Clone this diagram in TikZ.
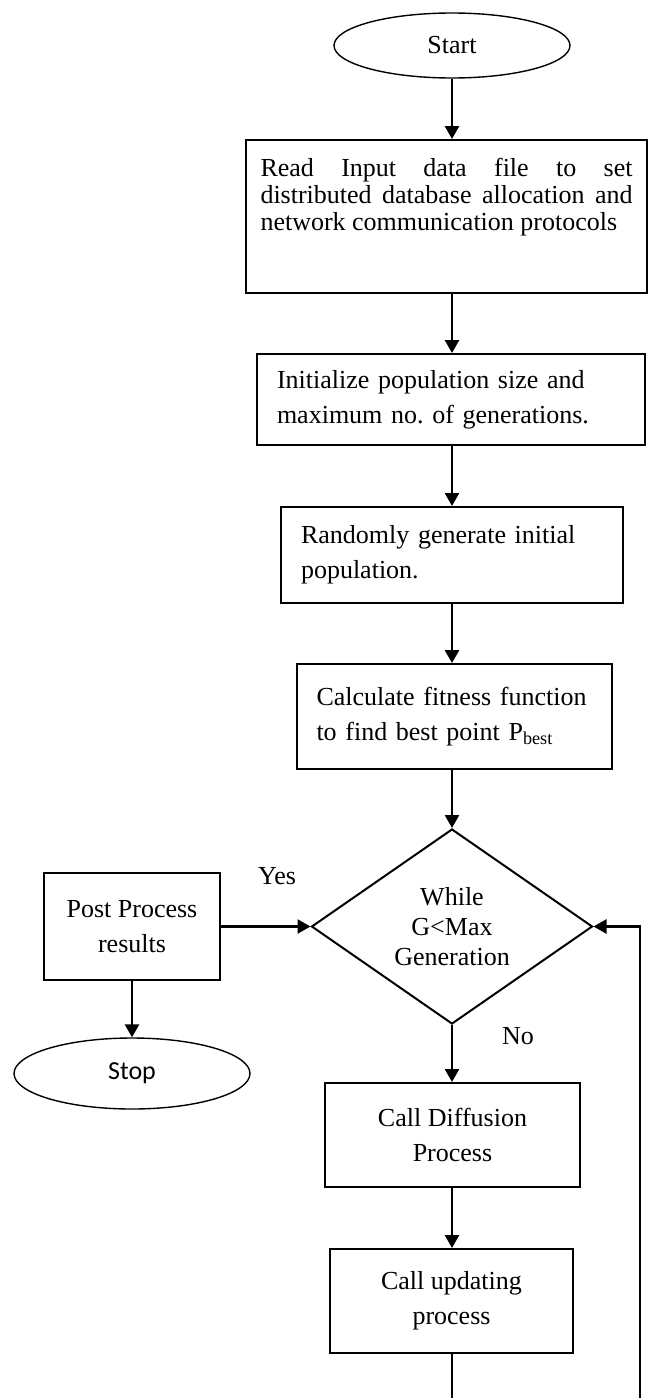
\documentclass[tikz,border=0pt]{standalone}
\usepackage{fontspec}
\setmainfont{Liberation Serif}
\newfontfamily\stopfont{Carlito}
\usetikzlibrary{arrows.meta, shapes.geometric, positioning}
\frenchspacing

\begin{document}
\begin{tikzpicture}[x=0.5pt, y=-0.5pt,
    font=\fontsize{13}{17.5}\selectfont,
    terminal/.style={draw, ellipse, line width=0.7pt, inner sep=0pt, minimum width=118pt},
    stepbox/.style={draw, rectangle, line width=1pt, inner xsep=10pt, inner ysep=0pt},
    decision/.style={draw, diamond, line width=1pt, inner sep=0pt, minimum width=140.5pt, minimum height=97.5pt, align=center, font=\fontsize{13}{15}\selectfont},
    flow/.style={-{Triangle[length=6.5pt, width=7pt]}, line width=1.3pt}]
  \useasboundingbox (0,0) rectangle (648,1398);
  \node[terminal, minimum height=32.5pt] (start) at (452,45.5) {Start};
  \node[stepbox, anchor=north west, inner xsep=7.25pt, inner ysep=9pt] (read) at (245,139) {\parbox[t][58.5pt][t]{186pt}{\fontsize{13}{13.5}\selectfont Read Input data file to set\linebreak distributed database allocation and\linebreak network communication protocols}};
  \node[stepbox, text width=174pt, minimum height=45.5pt, align=left] (init) at (451,399.5) {Initialize population size and\\maximum no. of generations.};
  \node[stepbox, text width=151pt, minimum height=48pt, align=left] (rand) at (452,555) {Randomly generate initial\\population.};
  \node[stepbox, text width=138pt, inner xsep=9.75pt, minimum height=52.5pt, align=left] (fit) at (454.5,716.5) {Calculate fitness function\\to find best point P\textsubscript{best}};
  \node[decision] (cond) at (452,926.5) {While\\G<Max\\Generation};
  \node[stepbox, minimum width=88pt, minimum height=53.5pt, align=center] (post) at (132,926.5) {Post Process\\results};
  \node[terminal, minimum height=35.5pt, font=\stopfont\fontsize{13}{15}\selectfont] (stop) at (132,1073.5) {Stop};
  \node[stepbox, minimum width=127.5pt, minimum height=52pt, align=center] (diff) at (452.5,1135) {Call Diffusion\\Process};
  \node[stepbox, minimum width=121.5pt, minimum height=52pt, align=center] (upd) at (451.5,1301) {Call updating\\process};
  \node (yes) at (277,876) {Yes};
  \node (no) at (518,1036) {No};
  \coordinate (back) at (640,1430);

  \draw[flow] (start) -- (read.north -| start);
  \draw[flow] (read.south -| start) -- (init.north -| start);
  \draw[flow] (init.south -| rand) -- (rand);
  \draw[flow] (rand) -- (fit.north -| rand);
  \draw[flow] (fit.south -| cond) -- (cond);
  \draw[flow] (post) -- (cond);
  \draw[flow] (post) -- (stop);
  \draw[flow] (cond) -- (diff.north -| cond);
  \draw[flow] (diff.south -| cond) -- (upd.north -| cond);
  \draw[flow] (upd.south -| cond) |- (back) |- (cond.east);
\end{tikzpicture}
\end{document}
